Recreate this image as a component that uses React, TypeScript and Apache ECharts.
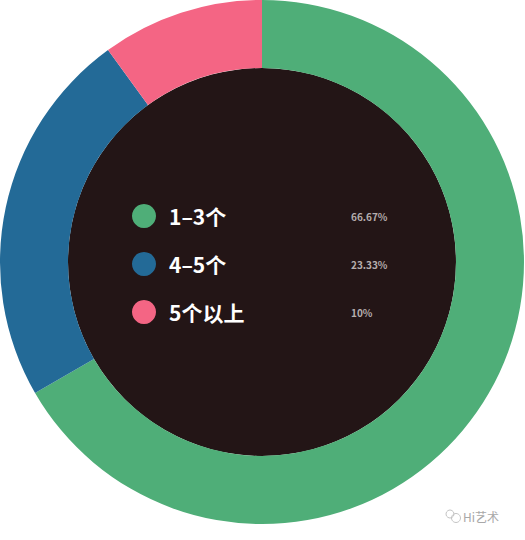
import React, { useEffect, useRef } from 'react';
import * as echarts from 'echarts';

const categories = ['1–3个', '4–5个', '5个以上'];
const values = [66.67, 23.33, 10];
const percentLabels = ['66.67%', '23.33%', '10%'];
const colors = ['#4fae78', '#236a97', '#f46584'];

const App: React.FC = () => {
  const chartRef = useRef<HTMLDivElement>(null);

  useEffect(() => {
    document.body.style.margin = '0';
    if (!chartRef.current) return;
    const chart = echarts.init(chartRef.current, undefined, { renderer: 'svg' });

    const option: echarts.EChartsOption = {
      animation: false,
      backgroundColor: '#ffffff',
      legend: {
        data: categories,
        orient: 'vertical',
        left: 127,
        top: 199,
        icon: 'circle',
        itemWidth: 24,
        itemHeight: 24,
        itemGap: 24,
        selectedMode: false,
        formatter: (name: string) => {
          const i = categories.indexOf(name);
          return `{name|${name}}{pct|${percentLabels[i]}}`;
        },
        textStyle: {
          rich: {
            name: {
              color: '#ffffff',
              fontSize: 21,
              fontWeight: 'bold',
              fontFamily: 'Noto Sans CJK SC',
              width: 182,
              padding: [0, 0, 0, 8],
            },
            pct: {
              color: '#b5adad',
              fontSize: 10,
              fontWeight: 'bold',
              fontFamily: 'Noto Sans CJK SC',
            },
          },
        },
      },
      graphic: [
        {
          type: 'text',
          left: 463,
          top: 510,
          style: {
            text: 'Hi艺术',
            fill: '#a8a8a8',
            fontSize: 12,
            fontFamily: 'Noto Sans CJK SC',
          },
        },
        {
          type: 'circle',
          shape: { cx: 456, cy: 518, r: 4.5 },
          style: { fill: 'none', stroke: '#c4c4c4', lineWidth: 1 },
        },
        {
          type: 'circle',
          shape: { cx: 450, cy: 514, r: 4 },
          style: { fill: 'none', stroke: '#c4c4c4', lineWidth: 1 },
        },
      ],
      series: [
        {
          type: 'pie',
          center: [262, 262],
          radius: [0, 194],
          silent: true,
          z: 1,
          label: { show: false },
          labelLine: { show: false },
          data: [{ value: 1, name: 'background', itemStyle: { color: '#231516' } }],
        },
        {
          type: 'pie',
          center: [262, 262],
          radius: [194, 262],
          startAngle: 90,
          clockwise: true,
          silent: true,
          z: 2,
          label: { show: false },
          labelLine: { show: false },
          data: categories.map((name, i) => ({
            name,
            value: values[i],
            itemStyle: { color: colors[i] },
          })),
        },
      ],
    };

    chart.setOption(option);
    return () => {
      chart.dispose();
    };
  }, []);

  return <div ref={chartRef} style={{ width: 525, height: 540 }} />;
};

export default App;
